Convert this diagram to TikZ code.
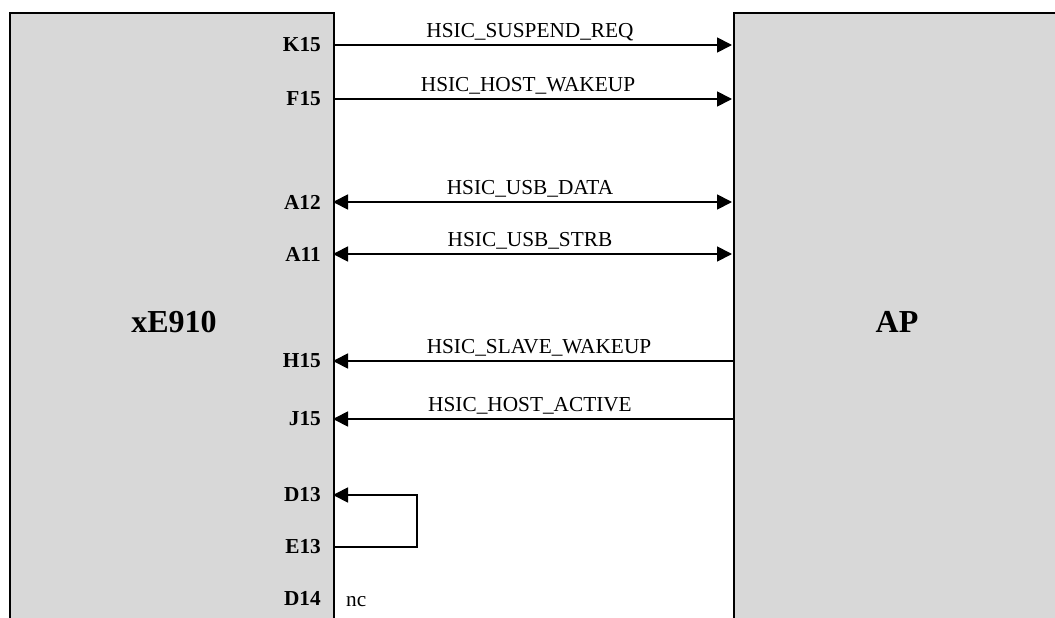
\documentclass[tikz,border=0pt]{standalone}
\usepackage{fontspec}
\setmainfont{Liberation Serif}
\usetikzlibrary{arrows.meta}
\tikzset{
  chip/.style={draw=black, line width=2pt, fill=boxgray, inner sep=0pt, anchor=north west},
  pin/.style={font=\fontsize{21.3}{24}\selectfont\bfseries, anchor=east, inner sep=0pt},
  sig/.style={font=\fontsize{21.3}{24}\selectfont, anchor=base, inner sep=0pt},
  big/.style={font=\fontsize{32}{36}\selectfont\bfseries, inner sep=0pt},
  wire/.style={line width=1.8pt, draw=black},
  tip/.style={-{Triangle[length=15pt,width=15pt]}},
  bitip/.style={{Triangle[length=15pt,width=15pt]}-{Triangle[length=15pt,width=15pt]}},
}
\definecolor{boxgray}{HTML}{D8D8D8}
\begin{document}
\begin{tikzpicture}[x=1pt,y=-1pt]
\useasboundingbox (0,0) rectangle (1055,618);
\fill[white] (0,0) rectangle (1055,618);
\begin{scope}
\clip (0,0) rectangle (1055,618);
\node[chip, minimum width=324pt, minimum height=700pt] (xe) at (9,12) {};
\node[chip, minimum width=400pt, minimum height=700pt] (ap) at (733,12) {};
\end{scope}
\node[big] (xelbl) at (174,322) {xE910};
\node[big] (aplbl) at (897,322) {AP};
% pin coordinates on the xE910 edge
\coordinate (pK) at (333,45);
\coordinate (pF) at (333,99);
\coordinate (pA12) at (333,202);
\coordinate (pA11) at (333,254);
\coordinate (pH) at (333,361);
\coordinate (pJ) at (333,419);
\coordinate (pD13) at (333,495);
\coordinate (pE13) at (333,547);
% AP edge
\coordinate (qK) at (732,45);
\coordinate (qF) at (732,99);
\coordinate (qA12) at (732,202);
\coordinate (qA11) at (732,254);
\coordinate (qH) at (733,361);
\coordinate (qJ) at (733,419);
\coordinate (loopA) at (417,547);
\coordinate (loopB) at (417,495);
% pin labels
\node[pin] (lK) at (321,45) {K15};
\node[pin] (lF) at (321,99) {F15};
\node[pin] (lA12) at (321,202) {A12};
\node[pin] (lA11) at (321,254) {A11};
\node[pin] (lH) at (321,361) {H15};
\node[pin] (lJ) at (321,419) {J15};
\node[pin] (lD13) at (321,495) {D13};
\node[pin] (lE13) at (321,547) {E13};
\node[pin] (lD14) at (321,598) {D14};
\node[sig, anchor=base west] (nc) at (346,606) {nc};
% connectors
\draw[wire, tip] (pK) -- (qK);
\draw[wire, tip] (pF) -- (qF);
\draw[wire, bitip] (pA12) -- (qA12);
\draw[wire, bitip] (pA11) -- (qA11);
\draw[wire, tip] (qH) -- (pH);
\draw[wire, tip] (qJ) -- (pJ);
\draw[wire, tip] (pE13) -- (loopA) -- (loopB) -- (pD13);
% signal labels
\node[sig] (sK) at (530,37.5) {HSIC\_SUSPEND\_REQ};
\node[sig] (sF) at (528,91.5) {HSIC\_HOST\_WAKEUP};
\node[sig] (sA12) at (530,194.5) {HSIC\_USB\_DATA};
\node[sig] (sA11) at (530,246.5) {HSIC\_USB\_STRB};
\node[sig] (sH) at (539,353.5) {HSIC\_SLAVE\_WAKEUP};
\node[sig] (sJ) at (530,411.5) {HSIC\_HOST\_ACTIVE};
\end{tikzpicture}
\end{document}
